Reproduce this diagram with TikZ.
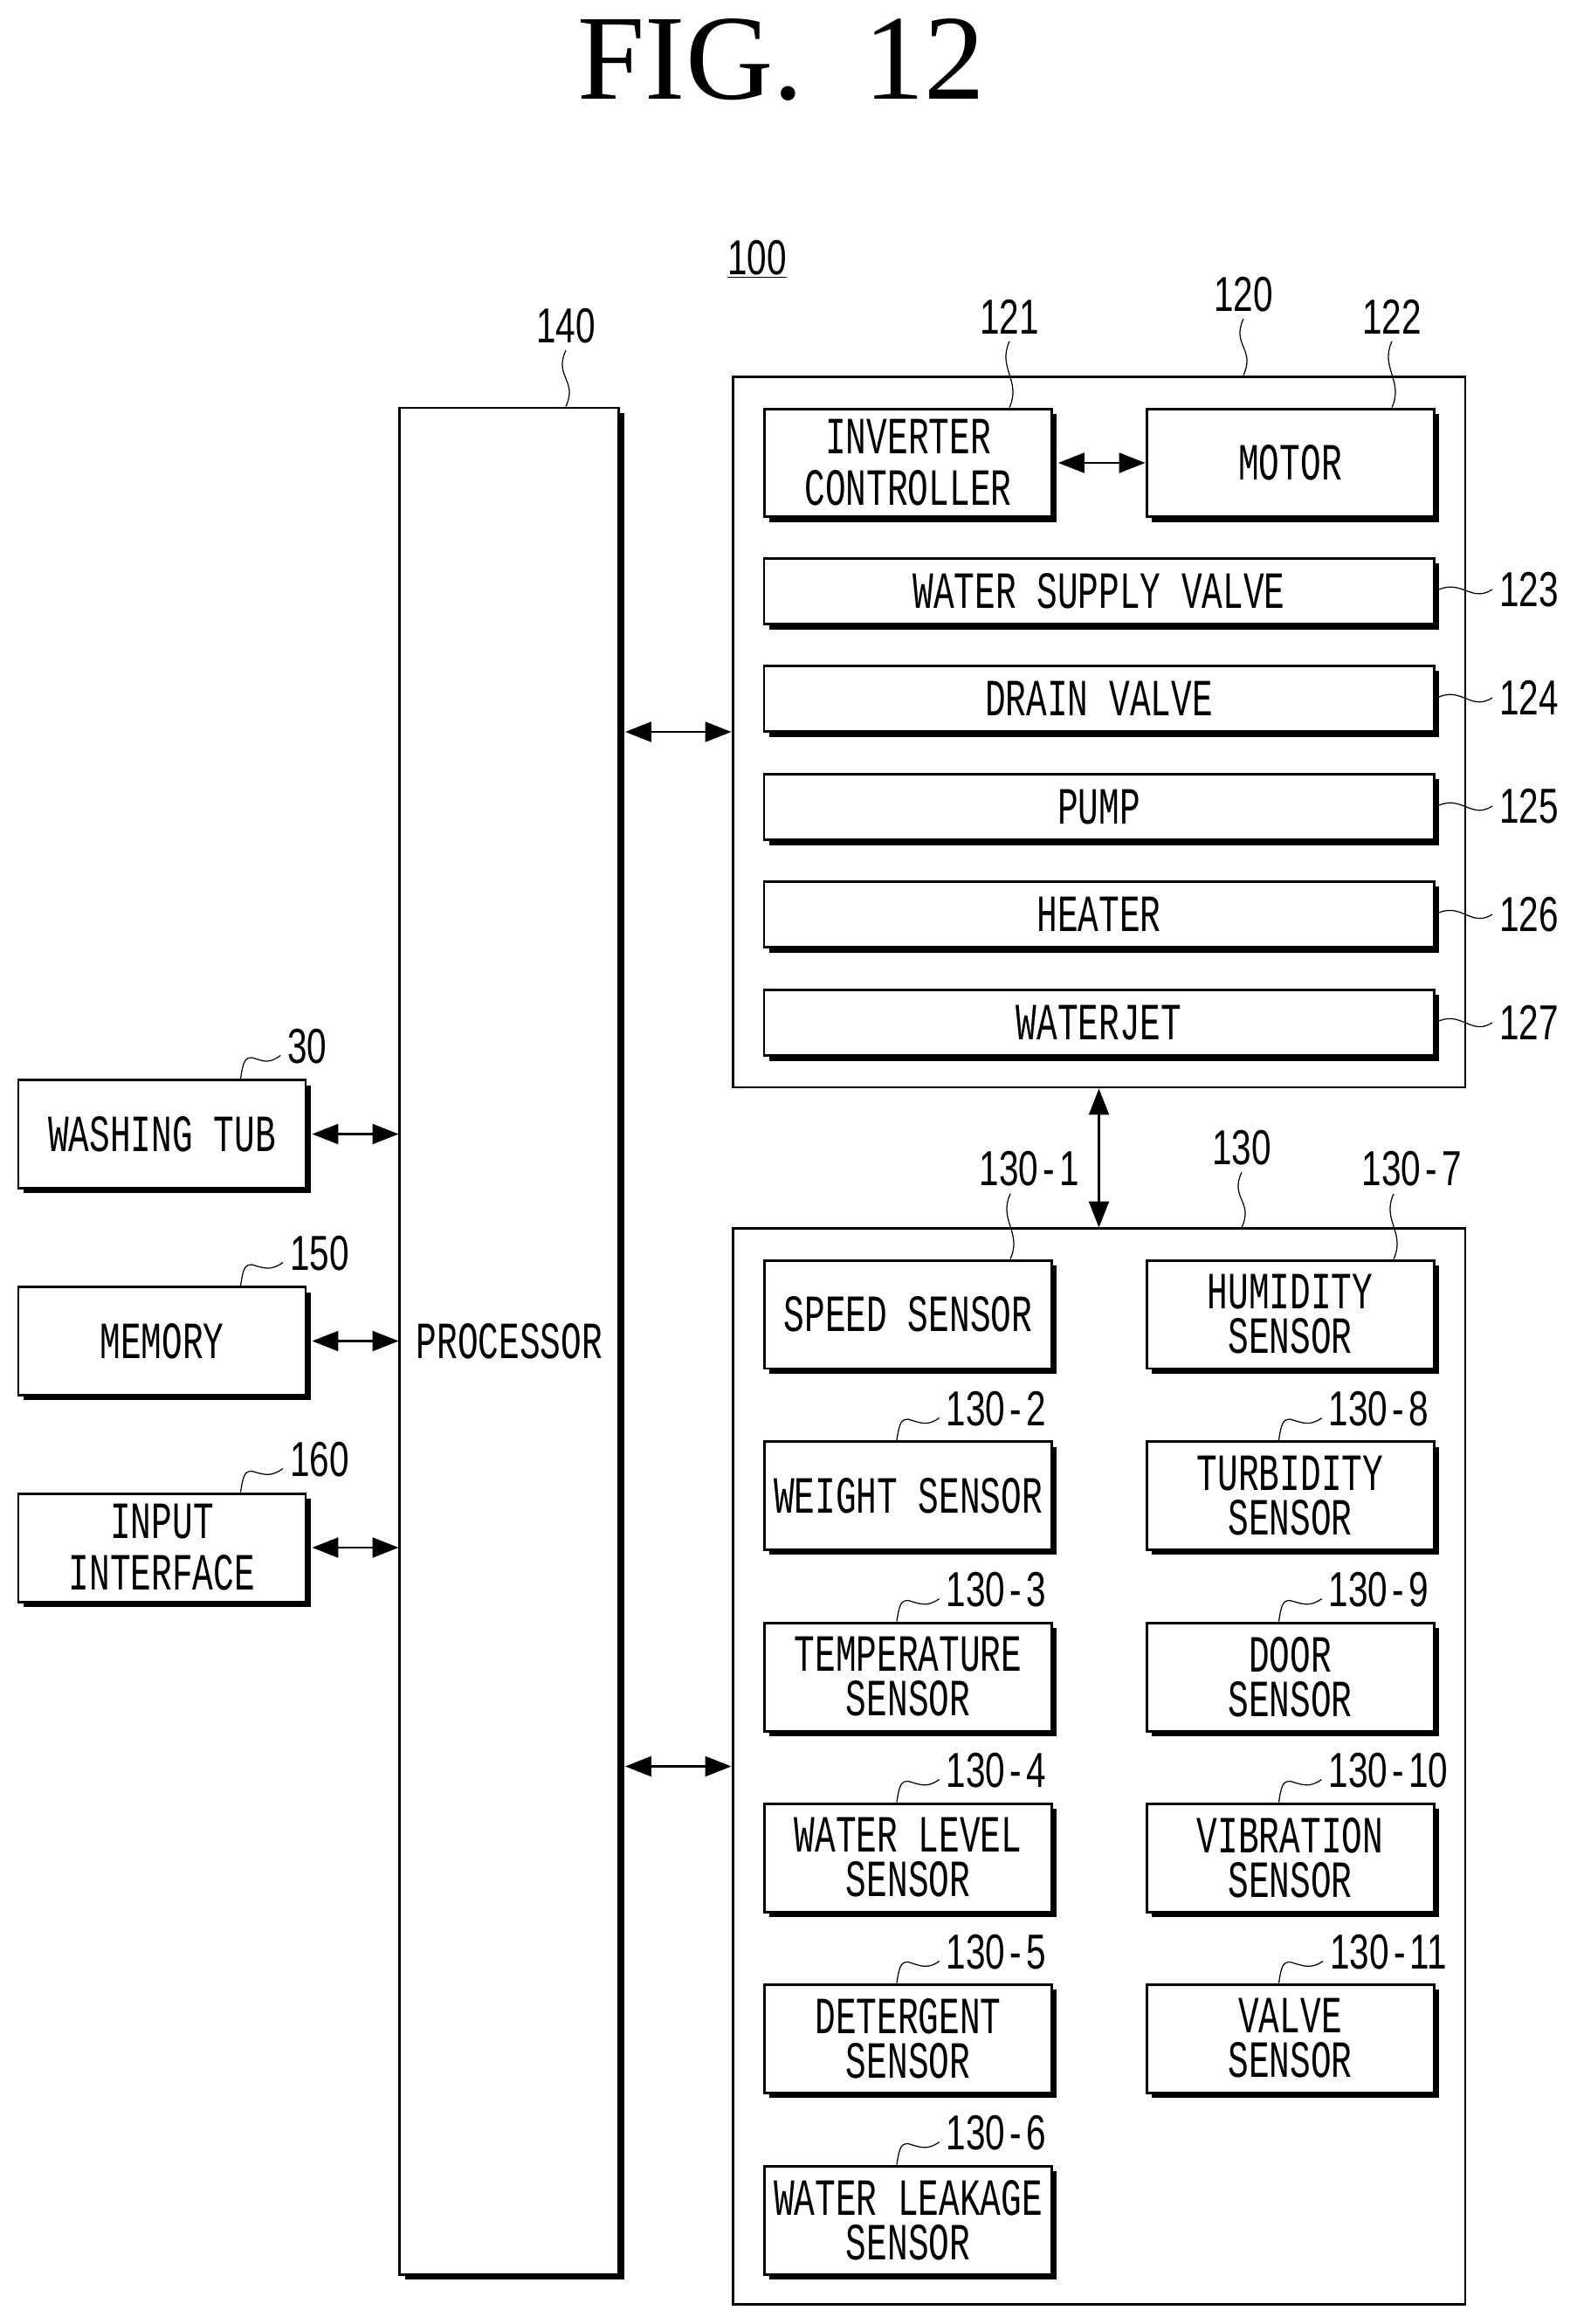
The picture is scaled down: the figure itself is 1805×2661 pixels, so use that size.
\documentclass[tikz,border=0pt]{standalone}
\usepackage{fontspec}
\usetikzlibrary{arrows.meta,shadows}
\setmainfont{Liberation Serif}
\newfontfamily\boxfont[FakeStretch=0.66]{Liberation Mono}
\newfontfamily\numfont[FakeStretch=0.72]{Liberation Sans}
\newcommand{\numd}{\kern3pt-\kern3pt}
\tikzset{
	outerbox/.style={draw, line width=1.7pt, minimum width=477.1pt, inner sep=0pt},
	unitbox/.style={draw, fill=white, line width=1.7pt, inner sep=0pt, align=center,
		font=\boxfont\fontsize{34}{29}\selectfont,
		drop shadow={shadow xshift=3.4pt, shadow yshift=-3.4pt, fill=black, opacity=1}},
	halfbox/.style={unitbox, minimum width=187.1pt, minimum height=70.5pt},
	longbox/.style={unitbox, minimum width=436.2pt, minimum height=43.2pt},
	tallline/.style={font=\boxfont\fontsize{34}{33.5}\selectfont},
	numlabel/.style={inner sep=4.5pt, font=\numfont\fontsize{32}{34}\selectfont},
	link/.style={{Triangle[length=17pt,width=13pt]}-{Triangle[length=17pt,width=13pt]}, line width=1.5pt},
	shadlink/.style={link, shorten <=3.4pt},
	leader/.style={line width=0.7pt},
	wavedown/.style={to path={.. controls +(-14,30) and +(14,-30) .. (\tikztotarget)}},
	waveside/.style={to path={.. controls +(30,-16) and +(-25,16) .. (\tikztotarget)}},
	hookline/.style={to path={.. controls +(3,-20) and +(-8,0) .. ++(13,-24) .. controls +(14,4) and +(-14,10) .. (\tikztotarget)}}
}
\begin{document}
\begin{tikzpicture}[x=0.5687pt, y=-0.5687pt]
		\useasboundingbox (0,0) rectangle (1805,2661);
		\node [anchor=base, font=\fontsize{79}{80}\selectfont] (title) at (895,114) {FIG.\ \ 12};
		\node [numlabel] (l100) at (867,297) {\underline{100}};
		\node [outerbox, minimum height=462.9pt] (act) at (1258.5,838) {};
		\node [outerbox, minimum height=700.1pt] (sens) at (1258.5,2022.5) {};
		\node [unitbox, minimum width=142.5pt, minimum height=1215.3pt] (proc) at (583.25,1535.5) {PROCESSOR};
		\node [halfbox, tallline] (tub) at (185.5,1298.5) {WASHING TUB};
		\node [halfbox, tallline] (mem) at (185.5,1535.5) {MEMORY};
		\node [halfbox, tallline] (input) at (185.5,1772) {INPUT\\INTERFACE};
		\node [halfbox, tallline] (inv) at (1040,530) {INVERTER\\CONTROLLER};
		\node [halfbox, tallline] (motor) at (1477.5,530) {MOTOR};
		\node [longbox] (wsv) at (1258.5,677) {WATER SUPPLY VALVE};
		\node [longbox] (drain) at (1258.5,800) {DRAIN VALVE};
		\node [longbox] (pump) at (1258.5,924) {PUMP};
		\node [longbox] (heater) at (1258.5,1047) {HEATER};
		\node [longbox] (jet) at (1258.5,1171) {WATERJET};
		\node [halfbox] (speed) at (1040,1505) {SPEED SENSOR};
		\node [halfbox] (weight) at (1040,1712.5) {WEIGHT SENSOR};
		\node [halfbox] (temp) at (1040,1920) {TEMPERATURE\\SENSOR};
		\node [halfbox] (level) at (1040,2127) {WATER LEVEL\\SENSOR};
		\node [halfbox] (deter) at (1040,2334) {DETERGENT\\SENSOR};
		\node [halfbox] (leak) at (1040,2542) {WATER LEAKAGE\\SENSOR};
		\node [halfbox] (humid) at (1477.5,1505) {HUMIDITY\\SENSOR};
		\node [halfbox] (turb) at (1477.5,1712.5) {TURBIDITY\\SENSOR};
		\node [halfbox] (door) at (1477.5,1920) {DOOR\\SENSOR};
		\node [halfbox] (vib) at (1477.5,2127) {VIBRATION\\SENSOR};
		\node [halfbox] (valve) at (1477.5,2334) {VALVE\\SENSOR};
		\node [numlabel] (l140) at (648,373) {140};
		\node [numlabel] (l121) at (1156,363) {121};
		\node [numlabel] (l120) at (1424,337) {120};
		\node [numlabel] (l122) at (1594,363) {122};
		\node [numlabel] (l123) at (1751,675) {123};
		\node [numlabel] (l124) at (1751,799) {124};
		\node [numlabel] (l125) at (1751,923) {125};
		\node [numlabel] (l126) at (1751,1047) {126};
		\node [numlabel] (l127) at (1751,1171) {127};
		\node [numlabel] (l30) at (352,1198) {30};
		\node [numlabel] (l150) at (366,1435) {150};
		\node [numlabel] (l160) at (366,1671) {160};
		\node [numlabel] (l130) at (1422,1314) {130};
		\node [numlabel] (l1301) at (1179,1338) {130\numd1};
		\node [numlabel] (l1302) at (1141,1613) {130\numd2};
		\node [numlabel] (l1303) at (1141,1820) {130\numd3};
		\node [numlabel] (l1304) at (1141,2027) {130\numd4};
		\node [numlabel] (l1305) at (1141,2235) {130\numd5};
		\node [numlabel] (l1306) at (1141,2442) {130\numd6};
		\node [numlabel] (l1307) at (1617,1338) {130\numd7};
		\node [numlabel] (l1308) at (1579,1613) {130\numd8};
		\node [numlabel] (l1309) at (1579,1820) {130\numd9};
		\node [numlabel] (l13010) at (1590,2027) {130\numd10};
		\node [numlabel] (l13011) at (1590,2235) {130\numd11};
		\coordinate (t1301) at (1157,1367);
		\coordinate (t1307) at (1596,1367);
		\draw [shadlink] (tub.east) -- (tub.east -| proc.west);
		\draw [shadlink] (mem.east) -- (mem.east -| proc.west);
		\draw [shadlink] (input.east) -- (input.east -| proc.west);
		\draw [shadlink] (inv.east) -- (motor.west);
		\draw [shadlink] (proc.east |- act.west) -- (act.west);
		\draw [shadlink] (proc.east |- sens.west) -- (sens.west);
		\draw [link] (act.south) -- (sens.north);
		\draw [leader] (l140.south) to [wavedown] (l140.south |- proc.north);
		\draw [leader] (l121.south) to [wavedown] (l121.south |- inv.north);
		\draw [leader] (l120.south) to [wavedown] (l120.south |- act.north);
		\draw [leader] (l122.south) to [wavedown] (l122.south |- motor.north);
		\draw [leader] (l130.south) to [wavedown] (l130.south |- sens.north);
		\draw [leader] (t1301) to [wavedown] (t1301 |- speed.north);
		\draw [leader] (t1307) to [wavedown] (t1307 |- humid.north);
		\draw [leader] (wsv.east) to [waveside] (l123.west);
		\draw [leader] (drain.east) to [waveside] (l124.west);
		\draw [leader] (pump.east) to [waveside] (l125.west);
		\draw [leader] (heater.east) to [waveside] (l126.west);
		\draw [leader] (jet.east) to [waveside] (l127.west);
		\draw [leader] ([xshift=145.6pt]tub.north west) to [hookline] ([yshift=-6pt]l30.west);
		\draw [leader] ([xshift=145.6pt]mem.north west) to [hookline] ([yshift=-6pt]l150.west);
		\draw [leader] ([xshift=145.6pt]input.north west) to [hookline] ([yshift=-6pt]l160.west);
		\draw [leader] ([xshift=87pt]weight.north west) to [hookline] ([yshift=-6pt]l1302.west);
		\draw [leader] ([xshift=87pt]temp.north west) to [hookline] ([yshift=-6pt]l1303.west);
		\draw [leader] ([xshift=87pt]level.north west) to [hookline] ([yshift=-6pt]l1304.west);
		\draw [leader] ([xshift=87pt]deter.north west) to [hookline] ([yshift=-6pt]l1305.west);
		\draw [leader] ([xshift=87pt]leak.north west) to [hookline] ([yshift=-6pt]l1306.west);
		\draw [leader] ([xshift=87pt]turb.north west) to [hookline] ([yshift=-6pt]l1308.west);
		\draw [leader] ([xshift=87pt]door.north west) to [hookline] ([yshift=-6pt]l1309.west);
		\draw [leader] ([xshift=87pt]vib.north west) to [hookline] ([yshift=-6pt]l13010.west);
		\draw [leader] ([xshift=87pt]valve.north west) to [hookline] ([yshift=-6pt]l13011.west);
\end{tikzpicture}
\end{document}
